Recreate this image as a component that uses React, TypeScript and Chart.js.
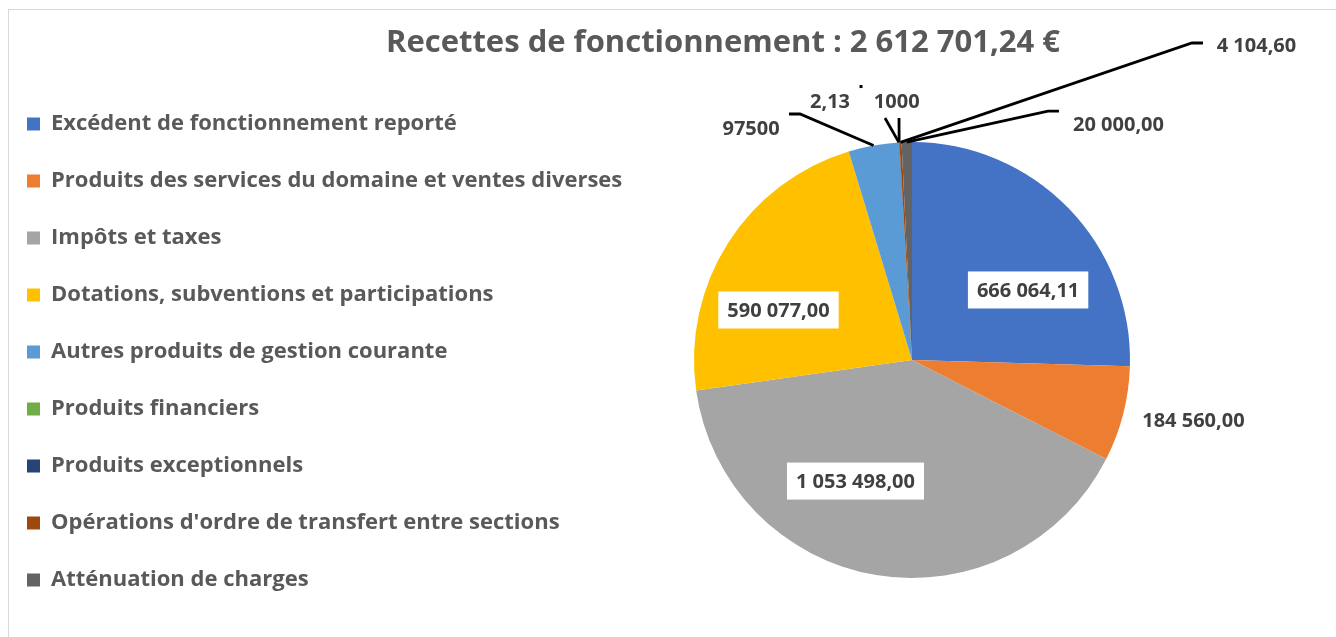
import React, { useEffect, useRef } from "react";
import { Chart, registerables } from "chart.js";

Chart.register(...registerables);

// ---------- data ----------
const TITLE = "Recettes de fonctionnement : 2 612 701,24 €";

const categories = [
  "Excédent de fonctionnement reporté",
  "Produits des services du domaine et ventes diverses",
  "Impôts et taxes",
  "Dotations, subventions et participations",
  "Autres produits de gestion courante",
  "Produits financiers",
  "Produits exceptionnels",
  "Opérations d'ordre de transfert entre sections",
  "Atténuation de charges",
];

const values = [666064.11, 184560.0, 1053498.0, 590077.0, 97500, 2.13, 1000, 4104.6, 20000];

const valueLabels = [
  "666 064,11",
  "184 560,00",
  "1 053 498,00",
  "590 077,00",
  "97500",
  "2,13",
  "1000",
  "4 104,60",
  "20 000,00",
];

const colors = [
  "#4472C4",
  "#ED7D31",
  "#A5A5A5",
  "#FFC000",
  "#5B9BD5",
  "#70AD47",
  "#264478",
  "#9E480E",
  "#636363",
];

// label placement (polar, relative to the pie: degrees, fraction of radius)
const labelAngles = [-31.1, 12.03, 115.03, -159.47, -124.82, -107.57, -93.38, -42.44, -48.81];
const labelRadii = [0.622, 1.32, 0.613, 0.654, 1.293, 1.246, 1.19, 2.141, 1.4385];
const labelBoxed = [true, false, true, true, false, false, false, false, false];

// leader lines: elbow point (polar), horizontal tick length
const leaderAngles: (number | null)[] = [null, null, null, null, -114.48, -96.37, -93.07, -48.55, -61.36];
const leaderRadii: (number | null)[] = [null, null, null, null, 1.24, 1.117, 1.112, 1.94, 1.301];
const leaderTicks = [0, 0, 0, 0, -11, 0, 0, 11, 11];
const leaderDots: (number[] | null)[] = [null, null, null, null, null, [-100.56, 1.276], null, null, null];

// ---------- style ----------
const FONT = "'Open Sans', 'Noto Sans', sans-serif";
const CANVAS_W = 1840;
const CANVAS_H = 720;
const CANVAS_LEFT = -8;
const LEGEND_FS = 22;
const LEGEND_PAD = 35;
const LEGEND_TOP_SPACE = 78;
const PIE_RADIUS = 218;
const LABEL_FS = 20;
const TITLE_FS = 31;

const deg = (d: number) => (d * Math.PI) / 180;

const titlePlugin = {
  id: "customTitle",
  afterDraw(chart: any) {
    const ctx = chart.ctx;
    ctx.save();
    ctx.font = `bold ${TITLE_FS}px ${FONT}`;
    ctx.fillStyle = "#595959";
    ctx.textAlign = "center";
    ctx.textBaseline = "alphabetic";
    ctx.fillText(TITLE, 731, 52);
    ctx.restore();
  },
};

const sliceLabelPlugin = {
  id: "sliceLabels",
  afterDatasetsDraw(chart: any) {
    const ctx = chart.ctx;
    const meta = chart.getDatasetMeta(0);
    ctx.save();
    meta.data.forEach((arc: any, i: number) => {
      const { x, y, outerRadius, startAngle, endAngle } = arc.getProps(
        ["x", "y", "outerRadius", "startAngle", "endAngle"],
        true
      );
      const mid = (startAngle + endAngle) / 2;
      const la = leaderAngles[i];
      const lr = leaderRadii[i];
      if (la !== null && lr !== null) {
        const ex = x + lr * outerRadius * Math.cos(deg(la));
        const ey = y + lr * outerRadius * Math.sin(deg(la));
        const px = x + outerRadius * Math.cos(mid);
        const py = y + outerRadius * Math.sin(mid);
        ctx.beginPath();
        ctx.moveTo(ex + leaderTicks[i], ey);
        ctx.lineTo(ex, ey);
        ctx.lineTo(px, py);
        ctx.strokeStyle = "#000000";
        ctx.lineWidth = 2.8;
        ctx.lineJoin = "miter";
        ctx.stroke();
      }
      const dot = leaderDots[i];
      if (dot) {
        const dx = x + dot[1] * outerRadius * Math.cos(deg(dot[0]));
        const dy = y + dot[1] * outerRadius * Math.sin(deg(dot[0]));
        ctx.fillStyle = "#000000";
        ctx.fillRect(dx - 1.5, dy - 1.5, 3, 3);
      }
      const lx = x + labelRadii[i] * outerRadius * Math.cos(deg(labelAngles[i]));
      const ly = y + labelRadii[i] * outerRadius * Math.sin(deg(labelAngles[i]));
      ctx.font = `bold ${LABEL_FS}px ${FONT}`;
      const tw = ctx.measureText(valueLabels[i]).width;
      if (labelBoxed[i]) {
        const bw = tw + 18;
        const bh = 37;
        ctx.fillStyle = "#FFFFFF";
        ctx.fillRect(lx - bw / 2, ly - bh / 2, bw, bh);
      }
      ctx.fillStyle = "#404040";
      ctx.textAlign = "center";
      ctx.textBaseline = "middle";
      ctx.fillText(valueLabels[i], lx, ly + 1);
    });
    ctx.restore();
  },
};

export default function App() {
  const ref = useRef<HTMLCanvasElement>(null);

  useEffect(() => {
    const canvas = ref.current;
    if (!canvas) return;
    const chart = new Chart(canvas, {
      type: "pie",
      data: {
        labels: categories,
        datasets: [
          {
            data: values,
            backgroundColor: colors,
            borderWidth: 0,
            radius: PIE_RADIUS,
          } as any,
        ],
      },
      options: {
        responsive: false,
        animation: false,
        devicePixelRatio: 1,
        layout: {
          padding: 0,
        },
        plugins: {
          title: { display: false },
          tooltip: { enabled: false },
          legend: {
            display: true,
            position: "chartArea",
            align: "start",
            title: {
              display: true,
              text: "",
              font: { size: 12, lineHeight: 1 },
              padding: { top: LEGEND_TOP_SPACE - 12, bottom: 0 },
            },
            labels: {
              boxWidth: 13,
              boxHeight: 13,
              padding: LEGEND_PAD,
              color: "#595959",
              font: { family: FONT, size: LEGEND_FS, weight: "bold" },
            },
          },
        },
      },
      plugins: [sliceLabelPlugin, titlePlugin],
    });
    return () => chart.destroy();
  }, []);

  return (
    <div
      style={{
        position: "fixed",
        left: 0,
        top: 0,
        width: 1336,
        height: 637,
        overflow: "hidden",
        background: "#ffffff",
      }}
    >
      <div
        style={{
          position: "absolute",
          left: 8,
          top: 9,
          width: 1400,
          height: 700,
          border: "1px solid #d9d9d9",
        }}
      />
      <canvas
        ref={ref}
        width={CANVAS_W}
        height={CANVAS_H}
        style={{ position: "absolute", left: CANVAS_LEFT, top: 0, width: CANVAS_W, height: CANVAS_H }}
      />
    </div>
  );
}
